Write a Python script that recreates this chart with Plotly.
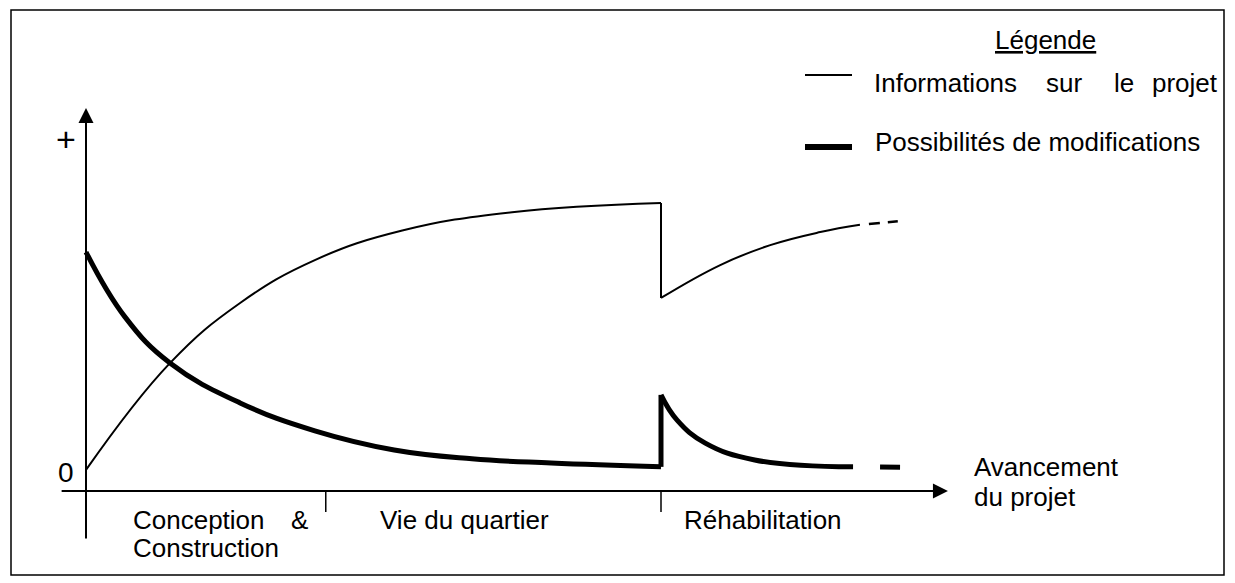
import plotly.graph_objects as go

W, H = 1235, 583
FONT = "Liberation Sans, Arial, sans-serif"

# "Informations sur le projet" (thin line), before and after the rehabilitation jump
info_x_a = [0, 14.6, 26.8, 39.8, 55.0, 74.1, 100]
info_y_a = [5.5, 33.4, 49.1, 60.3, 68.0, 72.8, 75.2]
info_x_b = [100, 110.3, 119.0, 127.7, 134.6]
info_y_b = [50.4, 59.0, 64.2, 67.6, 69.5]
info_x_c = [134.6, 141.6]
info_y_c = [69.5, 70.5]

# "Possibilités de modifications" (thick line)
mod_x_a = [0, 6.8, 14.6, 26.8, 39.8, 53.6, 67.1, 80.9, 100]
mod_y_a = [62.4, 45.4, 33.4, 23.0, 15.7, 10.7, 8.4, 7.3, 6.3]
mod_x_b = [100, 102.8, 107.7, 116.3, 133.4]
mod_y_b = [25.1, 18.5, 12.5, 8.1, 6.3]
mod_x_c = [133.4, 141.6]
mod_y_c = [6.3, 6.2]

# phase boundaries on the x axis
phase_ticks = [41.7, 100]

# axis geometry (data units)
x_axis_from, x_axis_to = -4.5, 149.9
y_axis_from, y_axis_to = -12.8, 100
tick_depth = -5.5

# pixel -> data scale used for the fixed ranges
X0_PX, Y0_PX, SX, SY = 86, 491, 5.75, 3.83


def curve(x, y, width, dash="solid", shape="spline"):
    line = dict(color="black", width=width, dash=dash, shape=shape)
    if shape == "spline":
        line["smoothing"] = 1.2
    return go.Scatter(x=x, y=y, mode="lines", line=line,
                      hoverinfo="skip", showlegend=False)


def at(px, py):
    return dict(x=px / W, y=1 - py / H, xref="paper", yref="paper")


fig = go.Figure()

# thin curve
fig.add_trace(curve(info_x_a, info_y_a, 2))
fig.add_trace(curve([info_x_a[-1], info_x_b[0]], [info_y_a[-1], info_y_b[0]], 2, shape="linear"))
fig.add_trace(curve(info_x_b, info_y_b, 2))
fig.add_trace(curve(info_x_c, info_y_c, 2.5, dash="0px,9px,11px,8px,10px,100px", shape="linear"))

# thick curve
fig.add_trace(curve(mod_x_a, mod_y_a, 5))
fig.add_trace(curve([mod_x_a[-1], mod_x_b[0]], [mod_y_a[-1], mod_y_b[0]], 5, shape="linear"))
fig.add_trace(curve(mod_x_b, mod_y_b, 5))
fig.add_trace(curve(mod_x_c, mod_y_c, 5, dash="0px,27px,20px,100px", shape="linear"))

# axes with arrows
fig.add_annotation(x=x_axis_to, y=0, ax=x_axis_from, ay=0, xref="x", yref="y",
                   axref="x", ayref="y", showarrow=True, arrowhead=2,
                   arrowwidth=2, arrowsize=1.5, arrowcolor="black", text="")
fig.add_annotation(x=0, y=y_axis_to, ax=0, ay=y_axis_from, xref="x", yref="y",
                   axref="x", ayref="y", showarrow=True, arrowhead=2,
                   arrowwidth=2, arrowsize=1.5, arrowcolor="black", text="")
for t in phase_ticks:
    fig.add_shape(type="line", x0=t, x1=t, y0=0, y1=tick_depth, xref="x", yref="y",
                  line=dict(color="black", width=1.5))

# frame
fig.add_shape(type="rect", x0=11 / W, x1=1224 / W, y0=1 - 575 / H, y1=1 - 10 / H,
              xref="paper", yref="paper", line=dict(color="black", width=1.5))

# legend
fig.add_shape(type="line", x0=805 / W, x1=852 / W, y0=1 - 75 / H, y1=1 - 75 / H,
              xref="paper", yref="paper", line=dict(color="black", width=2))
fig.add_shape(type="line", x0=805 / W, x1=852 / W, y0=1 - 147 / H, y1=1 - 147 / H,
              xref="paper", yref="paper", line=dict(color="black", width=6))

labels = [
    ("<u>Légende</u>", 993, 40, 26),
    ("Informations", 872, 83, 26),
    ("sur", 1044, 83, 26),
    ("le", 1112, 83, 26),
    ("projet", 1150, 83, 26),
    ("Possibilités de modifications", 873, 142, 26),
    ("Conception", 131, 520, 26),
    ("&", 289, 520, 26),
    ("Construction", 131, 548, 26),
    ("Vie du quartier", 378, 520, 26),
    ("Réhabilitation", 682, 520, 26),
    ("Avancement", 972, 467, 26),
    ("du projet", 972, 497, 26),
]
for text, px, py, size in labels:
    fig.add_annotation(text=text, showarrow=False, xanchor="left", yanchor="middle",
                       font=dict(family=FONT, size=size, color="black"), **at(px, py))

for text, px, py, size in [("+", 66, 139, 34), ("0", 66, 472, 28)]:
    fig.add_annotation(text=text, showarrow=False, xanchor="center", yanchor="middle",
                       font=dict(family=FONT, size=size, color="black"), **at(px, py))

fig.update_layout(
    width=W, height=H,
    margin=dict(l=0, r=0, t=0, b=0),
    paper_bgcolor="white", plot_bgcolor="white",
    xaxis=dict(range=[-X0_PX / SX, (W - X0_PX) / SX], visible=False, fixedrange=True),
    yaxis=dict(range=[(Y0_PX - H) / SY, Y0_PX / SY], visible=False, fixedrange=True),
    showlegend=False,
)

fig.write_html("out.html", config={"displayModeBar": False},
               post_script="document.body.style.margin='0';")
